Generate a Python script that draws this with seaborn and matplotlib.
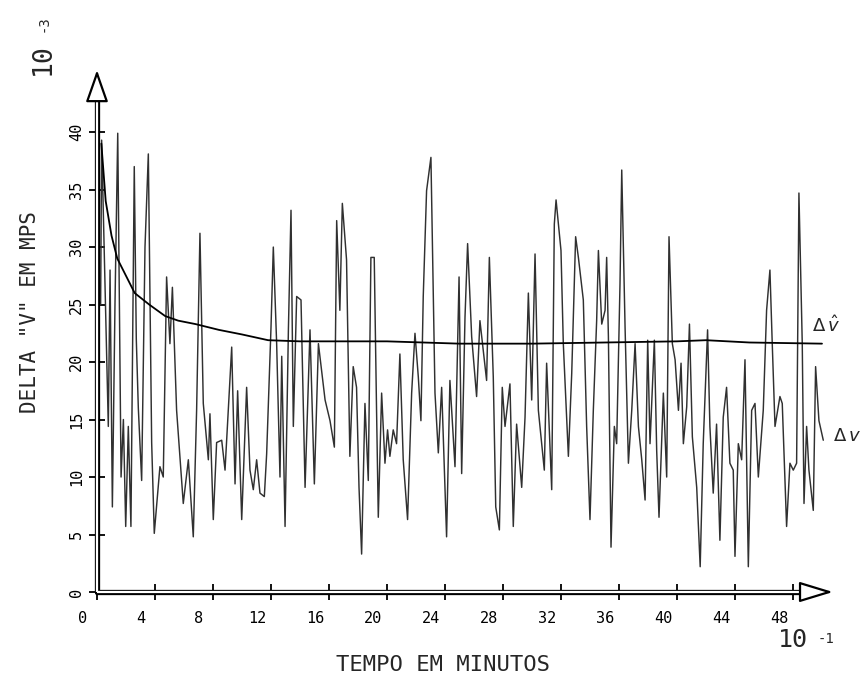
import numpy as np
import pandas as pd
import matplotlib
matplotlib.use("Agg")
import matplotlib.pyplot as plt
import matplotlib.transforms as mtransforms
import seaborn as sns

# ---- data (time in 10^-1 min, delta V in 10^-3 mps) ----
time_dv = [0.25, 0.32, 0.78, 0.90, 1.06, 1.24, 1.43, 1.66, 1.82, 1.98, 2.16, 2.34, 2.57, 2.71, 2.85,
           3.08, 3.31, 3.54, 3.77, 3.95, 4.34, 4.57, 4.80, 5.03, 5.20, 5.49, 5.95, 6.30, 6.64, 6.87,
           7.10, 7.33, 7.68, 7.79, 8.02, 8.25, 8.60, 8.83, 9.06, 9.29, 9.52, 9.70, 9.98, 10.32, 10.55,
           10.78, 11.01, 11.24, 11.54, 11.70, 12.00, 12.16, 12.39, 12.62, 12.74, 12.97, 13.20, 13.38,
           13.54, 13.77, 14.07, 14.35, 14.69, 14.99, 15.27, 15.73, 16.07, 16.37, 16.53, 16.75, 16.92,
           17.21, 17.44, 17.67, 17.90, 18.07, 18.25, 18.48, 18.71, 18.89, 19.12, 19.28, 19.40, 19.63,
           19.86, 20.04, 20.20, 20.43, 20.66, 20.89, 21.12, 21.42, 21.70, 21.93, 22.16, 22.34, 22.50,
           22.73, 23.03, 23.19, 23.31, 23.54, 23.77, 24.11, 24.34, 24.69, 24.97, 25.15, 25.38, 25.56,
           25.84, 26.18, 26.41, 26.64, 26.87, 27.06, 27.33, 27.50, 27.75, 27.95, 28.14, 28.48, 28.71,
           28.94, 29.29, 29.52, 29.75, 29.98, 30.21, 30.44, 30.85, 31.01, 31.36, 31.54, 31.66, 32.00,
           32.16, 32.51, 32.74, 33.01, 33.20, 33.54, 33.77, 34.00, 34.23, 34.46, 34.58, 34.81, 35.04,
           35.15, 35.27, 35.45, 35.68, 35.84, 36.07, 36.19, 36.42, 36.65, 36.88, 37.11, 37.34, 37.57,
           37.80, 37.98, 38.14, 38.44, 38.60, 38.76, 39.06, 39.29, 39.45, 39.68, 39.87, 40.10, 40.28,
           40.44, 40.67, 40.86, 41.06, 41.36, 41.60, 41.81, 42.11, 42.27, 42.50, 42.73, 42.96, 43.19,
           43.42, 43.65, 43.88, 44.00, 44.23, 44.46, 44.69, 44.92, 45.15, 45.38, 45.61, 45.95, 46.18,
           46.41, 46.57, 46.76, 47.10, 47.26, 47.56, 47.79, 48.02, 48.25, 48.41, 48.64, 48.76, 48.94,
           49.10, 49.40, 49.56, 49.79, 50.09]
dv = [25.0, 39.3, 14.4, 28.0, 7.4, 25.0, 39.9, 10.0, 15.0, 5.7, 14.4, 5.7, 37.0, 22.0, 16.0,
      9.7, 30.0, 38.1, 13.0, 5.1, 10.9, 10.0, 27.4, 21.6, 26.5, 15.8, 7.7, 11.5, 4.8, 15.8,
      31.2, 16.4, 11.5, 15.5, 6.3, 13.0, 13.2, 10.6, 16.0, 21.3, 9.4, 17.5, 6.3, 17.8, 10.6,
      8.9, 11.5, 8.6, 8.3, 12.0, 23.0, 30.0, 21.6, 10.0, 20.5, 5.7, 22.8, 33.2,
      14.4, 25.7, 25.4, 9.1, 22.8, 9.4, 21.6, 16.7, 14.9, 12.6, 32.3, 24.5, 33.8,
      28.9, 11.8, 19.6, 17.8, 9.1, 3.3, 16.4, 9.7, 29.1, 29.1, 15.8, 6.5, 17.3,
      11.2, 14.1, 11.8, 14.1, 12.9, 20.7, 11.5, 6.3, 17.3, 22.5, 18.7, 14.9, 25.7,
      34.9, 37.8, 26.0, 17.3, 12.1, 17.8, 4.8, 18.4, 10.9, 27.4, 10.3, 23.9, 30.3,
      22.2, 17.0, 23.6, 21.0, 18.4, 29.1, 18.7, 7.4, 5.4, 17.8, 14.4, 18.1, 5.7,
      14.6, 9.1, 15.2, 26.0, 16.7, 29.4, 15.8, 10.6, 19.9, 8.9, 32.0, 34.1, 29.7,
      21.6, 11.8, 19.0, 30.9, 29.1, 25.4, 14.4, 6.3, 15.8, 23.6, 29.7, 23.3, 24.5,
      29.1, 22.2, 3.9, 14.4, 12.9, 26.8, 36.7, 23.0, 11.2, 15.8, 21.6, 14.4, 11.5,
      8.0, 21.9, 12.9, 21.9, 12.3, 6.5, 17.3, 10.0, 30.9, 21.6, 20.2, 15.8, 19.9,
      12.9, 16.1, 23.3, 13.5, 9.1, 2.2, 12.9, 22.8, 14.4, 8.6, 14.6, 4.5, 15.2,
      17.8, 11.2, 10.6, 3.1, 12.9, 11.5, 20.2, 2.2, 15.8, 16.4, 10.0, 15.8, 24.5,
      28.0, 21.6, 14.4, 17.0, 16.4, 5.7, 11.2, 10.6, 11.2, 34.7, 21.6, 7.7, 14.4,
      10.6, 7.1, 19.6, 14.9, 13.2]

time_hat = [0.30, 0.60, 1.00, 1.40, 2.00, 2.60, 3.60, 4.70, 5.60, 6.80, 8.40, 10.0, 11.8, 14.0,
            20.0, 25.0, 30.0, 35.0, 40.0, 42.0, 45.0, 50.0]
dv_hat = [39.0, 34.0, 31.0, 29.0, 27.5, 26.0, 25.0, 24.0, 23.6, 23.3, 22.8, 22.4, 21.9, 21.8,
          21.8, 21.6, 21.6, 21.7, 21.8, 21.9, 21.7, 21.6]

x_ticks = [0, 4, 8, 12, 16, 20, 24, 28, 32, 36, 40, 44, 48]
y_ticks = [0, 5, 10, 15, 20, 25, 30, 35, 40]

# ---- style ----
sns.set_theme(style="white")
plt.rcParams['font.family'] = ['DejaVu Sans Mono', 'DejaVu Sans']

W, H = 860, 679
fig = plt.figure(figsize=(W / 100, H / 100), dpi=100)
ax = fig.add_axes([97 / W, 87 / H, 736 / W, 522 / H])
ax.set_xlim(0, 50.76)
ax.set_ylim(0, 45.4)

df_dv = pd.DataFrame({"t": time_dv, "v": dv})
df_hat = pd.DataFrame({"t": time_hat, "v": dv_hat})
sns.lineplot(data=df_dv, x="t", y="v", ax=ax, color="#303030", lw=1.05,
             estimator=None, sort=False, clip_on=False)
sns.lineplot(data=df_hat, x="t", y="v", ax=ax, color="black", lw=1.3,
             estimator=None, sort=False, clip_on=False)

for s in ax.spines.values():
    s.set_visible(False)
ax.set_xlabel("")
ax.set_ylabel("")

# double-line axes
for (xs, ys) in [([0, 0], [0, 43.1]), ([0, 48.7], [0, 0])]:
    ax.plot(xs, ys, color="black", lw=3.8, solid_capstyle="round", clip_on=False, zorder=5)
    ax.plot(xs, ys, color="white", lw=1.6, solid_capstyle="butt", clip_on=False, zorder=6)

# open arrow heads
ax.annotate("", xy=(0, 45.4), xytext=(0, 43.0), annotation_clip=False,
            arrowprops=dict(arrowstyle="-|>,head_length=1.0,head_width=0.35", mutation_scale=20,
                            fc="white", ec="black", lw=1.6, shrinkA=0, shrinkB=0), zorder=7)
ax.annotate("", xy=(50.76, 0), xytext=(48.7, 0), annotation_clip=False,
            arrowprops=dict(arrowstyle="-|>,head_length=1.05,head_width=0.32", mutation_scale=20,
                            fc="white", ec="black", lw=1.6, shrinkA=0, shrinkB=0), zorder=7)

ax.set_xticks(x_ticks)
ax.set_xticklabels([str(v) for v in x_ticks])
ax.set_yticks(y_ticks)
ax.set_yticklabels([str(v) for v in y_ticks])
ax.tick_params(axis="both", direction="inout", length=11, width=1.3, color="black",
               labelsize=11, labelcolor="black")
ax.tick_params(axis="x", pad=8, bottom=True)
ax.tick_params(axis="y", pad=4, left=True, labelrotation=90)
for lab in ax.get_yticklabels():
    lab.set_va("center")
off = mtransforms.ScaledTranslation(-14 / 100, 0, fig.dpi_scale_trans)
for lab in ax.get_xticklabels():
    lab.set_transform(lab.get_transform() + off)

def ftext(px, py, s, **kw):
    fig.text(px / W, 1 - py / H, s, **kw)

ftext(443, 665, "TEMPO EM MINUTOS", ha="center", va="center", fontsize=16)
ftext(30, 312, 'DELTA "V" EM MPS', ha="center", va="center", fontsize=15, rotation=90)
ftext(793, 640, "10", ha="center", va="center", fontsize=18, fontweight="light")
ftext(826, 639, "-1", ha="center", va="center", fontsize=10)
ftext(43, 59, "10", ha="center", va="center", fontsize=19, rotation=90)
ftext(44, 24, "-3", ha="center", va="center", fontsize=10, rotation=90)

ax.text(50.3, 23.2, r"$\Delta\,\hat{v}$", fontsize=13, ha="center", va="center",
        fontweight="bold", clip_on=False)
ax.text(51.7, 13.6, r"$\Delta\,v$", fontsize=13, ha="center", va="center", clip_on=False)

fig.savefig("out.png", dpi=100, facecolor="white")
